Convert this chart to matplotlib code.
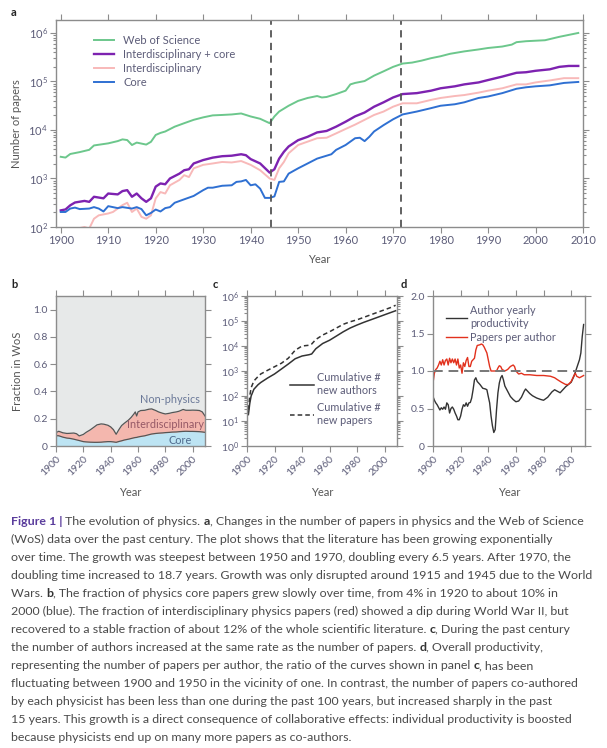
import numpy as np
import matplotlib
matplotlib.use('Agg')
import matplotlib.pyplot as plt
from matplotlib.ticker import LogLocator, NullFormatter

plt.rcParams['font.family'] = ['Lato', 'DejaVu Sans']
plt.rcParams['mathtext.fontset'] = 'custom'
plt.rcParams['mathtext.rm'] = 'Lato'
plt.rcParams['mathtext.it'] = 'Lato:italic'

# ---- panel a: number of papers ----
wos_years = [1900, 1901, 1902, 1904, 1906, 1907, 1910, 1912, 1913, 1914, 1915, 1916, 1918, 1919,
             1920, 1921, 1922, 1924, 1926, 1928, 1930, 1932, 1934, 1936, 1938, 1940, 1942, 1944,
             1945, 1946, 1948, 1950, 1952, 1954, 1955, 1956, 1958, 1960, 1961, 1962, 1964, 1966,
             1968, 1970, 1972, 1974, 1976, 1978, 1980, 1982, 1985, 1988, 1990, 1993, 1995, 1996,
             1998, 2000, 2002, 2005, 2009]
wos = [2800, 2700, 3200, 3500, 3900, 4800, 5300, 5900, 6400, 6200, 4900, 5500, 5000, 5700,
       7900, 8700, 9300, 11700, 13800, 16200, 18200, 20000, 20400, 20900, 21900, 19000, 17000, 13800,
       19000, 24000, 31600, 39800, 45700, 50100, 46800, 47900, 55000, 64600, 87100, 93300, 102000, 132000,
       162000, 200000, 234000, 245000, 269000, 302000, 331000, 372000, 417000, 457000, 490000, 525000, 575000, 646000,
       676000, 692000, 708000, 832000, 1000000]

ic_years = [1900, 1901, 1902, 1903, 1905, 1906, 1907, 1909, 1910, 1912, 1913, 1914, 1915, 1916,
            1917, 1918, 1919, 1920, 1921, 1922, 1923, 1925, 1926, 1927, 1928, 1930, 1932, 1934,
            1936, 1938, 1939, 1940, 1942, 1944, 1945, 1946, 1947, 1948, 1950, 1952, 1954, 1956,
            1958, 1960, 1962, 1964, 1966, 1968, 1970, 1972, 1975, 1978, 1980, 1983, 1985, 1988,
            1990, 1993, 1996, 1998, 2000, 2003, 2005, 2007, 2009]
inter_core = [220, 230, 280, 320, 345, 330, 420, 390, 490, 470, 550, 575, 420, 490,
              390, 330, 390, 680, 790, 760, 1000, 1260, 1480, 1550, 2040, 2400, 2690, 2880,
              2950, 3160, 3020, 2510, 2040, 1320, 1550, 2570, 3550, 4570, 6170, 7240, 8910, 9550,
              11700, 14800, 19100, 22900, 30200, 37200, 46800, 55000, 57500, 64600, 72400, 79400, 87100, 95500,
              107000, 126000, 151000, 155000, 166000, 178000, 200000, 209000, 209000]

int_years = [1904, 1905, 1906, 1907, 1908, 1910, 1911, 1912, 1913, 1914, 1915, 1916, 1917, 1918,
             1919, 1920, 1921, 1922, 1923, 1925, 1926, 1927, 1928, 1930, 1932, 1934, 1936, 1938,
             1940, 1942, 1944, 1945, 1946, 1947, 1948, 1950, 1952, 1954, 1956, 1958, 1960, 1962,
             1964, 1966, 1968, 1970, 1972, 1975, 1978, 1980, 1983, 1985, 1988, 1990, 1993, 1996,
             1998, 2000, 2003, 2006, 2009]
inter = [95, 100, 93, 148, 174, 190, 204, 240, 282, 316, 204, 240, 162, 148,
         174, 389, 525, 490, 724, 933, 1170, 1070, 1620, 1910, 2040, 2190, 2140, 2290,
         1910, 1480, 1000, 933, 1620, 2190, 3310, 4900, 5750, 6760, 6920, 8510, 10500, 12900,
         16200, 20400, 24000, 30200, 35500, 35500, 41700, 45700, 50100, 52500, 58900, 64600, 72400, 87100,
         87100, 95500, 105000, 117000, 117000]

core_years = [1900, 1901, 1902, 1903, 1904, 1906, 1907, 1908, 1909, 1910, 1912, 1913, 1915, 1916,
              1917, 1918, 1919, 1920, 1921, 1922, 1923, 1924, 1926, 1928, 1930, 1931, 1932, 1934,
              1936, 1937, 1938, 1939, 1940, 1941, 1942, 1943, 1944, 1945, 1946, 1947, 1948, 1950,
              1952, 1954, 1956, 1957, 1958, 1960, 1962, 1963, 1964, 1965, 1966, 1968, 1970, 1972,
              1975, 1978, 1980, 1983, 1985, 1988, 1990, 1993, 1996, 1998, 2000, 2003, 2006, 2009]
core = [204, 204, 240, 251, 234, 240, 257, 240, 209, 269, 245, 257, 240, 257,
        234, 174, 195, 229, 209, 245, 257, 316, 372, 437, 575, 646, 646, 708,
        724, 851, 871, 933, 724, 759, 617, 398, 398, 427, 851, 871, 1260, 1620,
        2040, 2570, 2950, 3160, 3890, 4900, 6760, 6920, 5890, 7240, 9330, 12600, 16600, 20900,
        24000, 28200, 31600, 33900, 37200, 45700, 49000, 57500, 70800, 75900, 79400, 83200, 93300, 97700]

war_years = [1944.2, 1971.6]

# ---- panel b: fraction in WoS ----
b_years = [1900, 1902, 1905, 1908, 1910, 1913, 1915, 1917, 1920, 1922,
           1925, 1928, 1930, 1933, 1935, 1938, 1940, 1942, 1944, 1946,
           1948, 1950, 1953, 1955, 1957, 1958, 1959, 1960, 1962, 1965,
           1968, 1970, 1973, 1975, 1978, 1980, 1983, 1985, 1988, 1990,
           1993, 1995, 1998, 2000, 2003, 2005, 2007, 2009]
b_core = [.076, .075, .065, .058, .056, .05, .045, .04, .032, .03,
          .028, .027, .027, .028, .03, .032, .032, .03, .027, .033,
          .038, .044, .05, .055, .06, .062, .063, .066, .07, .075,
          .083, .088, .092, .094, .096, .098, .1, .102, .103, .105,
          .107, .108, .107, .107, .106, .105, .103, .1]
b_inter = [.022, .033, .032, .034, .037, .045, .045, .034, .053, .07,
           .09, .113, .128, .134, .13, .12, .108, .09, .059, .087,
           .112, .123, .14, .155, .175, .188, .157, .184, .19, .187,
           .187, .184, .168, .156, .144, .137, .14, .143, .147, .15,
           .161, .154, .155, .156, .156, .155, .147, .12]

# ---- panel c: cumulative numbers ----
c_years = [1901, 1902, 1903, 1905, 1908, 1910, 1915, 1920, 1925, 1930, 1935, 1940, 1945, 1947,
           1950, 1955, 1960, 1965, 1970, 1975, 1980, 1985, 1990, 1995, 2000, 2005, 2008]
c_authors = [18, 50, 100, 186, 282, 347, 525, 760, 1200, 1900, 3090, 3980, 4470, 4800,
             7760, 12600, 17000, 25100, 37200, 52500, 69200, 89100, 112000, 141000, 178000, 224000, 257000]
c_papers = [28, 100, 214, 400, 600, 760, 1070, 1480, 2040, 3240, 6760, 10000, 10700, 12000,
            18200, 27500, 37200, 52500, 74100, 93300, 112000, 141000, 178000, 224000, 282000, 355000, 427000]

# ---- panel d: productivity ----
d_years_a = [1900, 1901, 1902, 1903, 1905, 1906, 1907, 1908, 1909, 1910, 1911, 1912, 1913, 1914,
             1915, 1916, 1917, 1918, 1919, 1920, 1921, 1922, 1923, 1924, 1925, 1926, 1927, 1928,
             1929, 1930, 1931, 1932, 1934, 1936, 1938, 1939, 1940, 1941, 1942, 1943, 1944, 1945,
             1946, 1947, 1948, 1949, 1950, 1951, 1952, 1954, 1956, 1958, 1960, 1962, 1964, 1966,
             1967, 1968, 1970, 1972, 1975, 1978, 1980, 1983, 1986, 1988, 1990, 1992, 1994, 1996,
             1998, 2000, 2002, 2004, 2006, 2007, 2008, 2009]
author_prod = [0.66, 0.61, 0.575, 0.55, 0.48, 0.51, 0.49, 0.52, 0.49, 0.575, 0.55, 0.44, 0.50, 0.52,
               0.49, 0.44, 0.40, 0.35, 0.35, 0.40, 0.49, 0.55, 0.53, 0.575, 0.53, 0.575, 0.58, 0.64,
               0.75, 0.88, 0.91, 0.86, 0.82, 0.77, 0.76, 0.75, 0.66, 0.575, 0.40, 0.27, 0.18, 0.22,
               0.49, 0.71, 0.84, 0.91, 0.94, 0.88, 0.80, 0.73, 0.66, 0.62, 0.59, 0.60, 0.65, 0.73,
               0.76, 0.74, 0.70, 0.67, 0.64, 0.62, 0.61, 0.65, 0.72, 0.75, 0.73, 0.71, 0.75, 0.79,
               0.82, 0.85, 0.93, 1.04, 1.15, 1.24, 1.46, 1.62]
d_years_p = [1900, 1901, 1902, 1903, 1904, 1905, 1906, 1907, 1908, 1909, 1910, 1911, 1912, 1913,
             1914, 1915, 1916, 1917, 1918, 1919, 1920, 1921, 1922, 1923, 1924, 1925, 1926, 1927,
             1928, 1930, 1931, 1932, 1934, 1935, 1936, 1937, 1938, 1939, 1940, 1941, 1942, 1944,
             1946, 1947, 1948, 1949, 1950, 1952, 1954, 1956, 1958, 1959, 1960, 1962, 1964, 1966,
             1970, 1975, 1980, 1985, 1988, 1990, 1993, 1996, 1998, 2000, 2002, 2003, 2004, 2006,
             2008, 2009]
papers_per_author = [0.84, 0.97, 1.02, 1.04, 1.08, 1.13, 1.08, 1.15, 1.08, 1.14, 1.16, 1.08, 1.17, 1.11,
                     1.16, 1.11, 1.16, 1.08, 1.16, 1.04, 1.08, 0.97, 1.11, 1.06, 1.14, 1.18, 1.06, 1.06,
                     1.13, 1.17, 1.28, 1.34, 1.35, 1.36, 1.35, 1.32, 1.28, 1.24, 1.15, 1.06, 1.00, 1.00,
                     1.00, 1.04, 1.07, 1.06, 1.02, 1.00, 1.02, 1.06, 1.08, 1.06, 1.00, 0.96, 0.97, 0.95,
                     0.95, 0.94, 0.94, 0.93, 0.91, 0.885, 0.85, 0.82, 0.82, 0.86, 0.94, 0.97, 0.93, 0.91,
                     0.93, 0.94]

W, H = 607, 748
fig = plt.figure(figsize=(W / 100, H / 100), dpi=100)

spine_col = '#8c8c8c'
tick_col = '#5c5c78'
lab_col = '#555555'


def box(l, r, t, b):
    return [l / W, (H - b) / H, (r - l) / W, (b - t) / H]


def style(ax, fs=7.5):
    for s in ax.spines.values():
        s.set_color(spine_col)
        s.set_linewidth(1.0)
    ax.tick_params(which='both', direction='out', top=True, right=True, color=spine_col,
                   labelcolor=tick_col, labelsize=fs, width=0.8)
    ax.tick_params(which='major', length=4, pad=2)
    ax.tick_params(which='minor', length=2.2)


ax_a = fig.add_axes(box(56, 583, 20, 227))
ax_b = fig.add_axes(box(56, 205, 296, 446))
ax_c = fig.add_axes(box(247, 397, 296, 446))
ax_d = fig.add_axes(box(433, 585, 296, 446))

# panel a
ax_a.semilogy(wos_years, wos, color='#6cc78c', lw=1.4, label='Web of Science')
ax_a.semilogy(ic_years, inter_core, color='#7d22b0', lw=1.7, label='Interdisciplinary + core')
ax_a.semilogy(int_years, inter, color='#f8b9b9', lw=1.4, label='Interdisciplinary')
ax_a.semilogy(core_years, core, color='#2f70d2', lw=1.4, label='Core')
for yr in war_years:
    ax_a.axvline(yr, color='#555555', lw=1.3, dashes=(4, 3))
ax_a.set_xlim(1899, 2010)
ax_a.set_ylim(100, 1.85e6)
ax_a.set_xticks(range(1900, 2011, 10))
ax_a.yaxis.set_major_locator(LogLocator(base=10, numticks=10))
ax_a.yaxis.set_minor_locator(LogLocator(base=10, subs=np.arange(2, 10), numticks=20))
ax_a.yaxis.set_minor_formatter(NullFormatter())
style(ax_a, 8)
ax_a.set_xlabel('Year', color=lab_col, fontsize=8)
ax_a.xaxis.set_label_coords(0.5, -0.13)
ax_a.set_ylabel('Number of papers', color=lab_col, fontsize=8)
ax_a.yaxis.set_label_coords(-0.064, 0.5)
ax_a.legend(loc='upper left', bbox_to_anchor=(0.062, 0.955), frameon=False, fontsize=8,
            handlelength=1.8, handletextpad=0.8, labelspacing=0.28, borderpad=0,
            labelcolor=tick_col)

# panel b
b_total = np.array(b_core) + np.array(b_inter)
ax_b.set_facecolor('#e7e9e9')
ax_b.fill_between(b_years, 0, b_core, color='#bde4f3', lw=0)
ax_b.fill_between(b_years, b_core, b_total, color='#f4b7ae', lw=0)
ax_b.plot(b_years, b_core, color='#555555', lw=0.9)
ax_b.plot(b_years, b_total, color='#555555', lw=0.9)
ax_b.set_xlim(1900, 2009)
ax_b.set_ylim(0, 1.1)
ax_b.set_yticks([0, 0.2, 0.4, 0.6, 0.8, 1.0])
ax_b.set_yticklabels(['0', '0.2', '0.4', '0.6', '0.8', '1.0'])
ax_b.text(1983.5, 0.34, 'Non-physics', color='#6a7898', fontsize=7.8, ha='center', va='center')
ax_b.text(1980, 0.16, 'Interdisciplinary', color='#955866', fontsize=7.8, ha='center', va='center')
ax_b.text(1991, 0.04, 'Core', color='#4f6a8c', fontsize=7.8, ha='center', va='center')
ax_b.set_ylabel('Fraction in WoS', color=lab_col, fontsize=8)
ax_b.yaxis.set_label_coords(-0.22, 0.5)

# panel c
ax_c.semilogy(c_years, c_authors, color='#333333', lw=1.1, label='Cumulative #\nnew authors')
ax_c.semilogy(c_years, c_papers, color='#333333', lw=1.1, dashes=(3, 2),
              label='Cumulative #\nnew papers')
ax_c.set_xlim(1900, 2009)
ax_c.set_ylim(1, 1e6)
ax_c.yaxis.set_major_locator(LogLocator(base=10, numticks=10))
ax_c.yaxis.set_minor_locator(LogLocator(base=10, subs=np.arange(2, 10), numticks=20))
ax_c.yaxis.set_minor_formatter(NullFormatter())
ax_c.legend(loc='upper left', bbox_to_anchor=(0.25, 0.53), frameon=False, fontsize=7.8,
            handlelength=2.2, handletextpad=0.3, labelspacing=0.6, borderpad=0,
            labelcolor=tick_col)

# panel d
ax_d.plot(d_years_a, author_prod, color='#333333', lw=1.0, label='Author yearly\nproductivity')
ax_d.plot(d_years_p, papers_per_author, color='#e2311d', lw=1.0, label='Papers per author')
ax_d.axhline(1.0, color='#777777', lw=1.4, dashes=(5, 3))
ax_d.set_xlim(1900, 2010)
ax_d.set_ylim(0, 2)
ax_d.set_yticks([0, 0.5, 1.0, 1.5, 2.0])
ax_d.set_yticklabels(['0', '0.5', '1.0', '1.5', '2.0'])
ax_d.legend(loc='upper left', bbox_to_anchor=(0.05, 0.975), frameon=False, fontsize=7.8,
            handlelength=1.9, handletextpad=0.3, labelspacing=0.3, borderpad=0,
            labelcolor=tick_col)

for ax in (ax_b, ax_c, ax_d):
    ax.set_xticks(range(1900, 2001, 20))
    style(ax, 7.5)
    for lbl in ax.get_xticklabels():
        lbl.set_rotation(45)
        lbl.set_ha('right')
        lbl.set_rotation_mode('anchor')
    ax.set_xlabel('Year', color=lab_col, fontsize=8)
    ax.xaxis.set_label_coords(0.5, -0.275)

# panel letters
for letter, x, y in [('a', 14, 12), ('b', 14, 284), ('c', 215, 284), ('d', 404, 284)]:
    fig.text(x / W, 1 - y / H, letter, fontsize=8, fontweight='bold', color='#222222',
             ha='center', va='center')

# caption
cap_col = '#4a4a4a'
fig_col = '#5a3c9c'
N = 'normal'
B = 'bold'
lines = [
    [('Figure 1 |', B, fig_col), (' The evolution of physics. ', N, cap_col), ('a', B, '#333333'),
     (', Changes in the number of papers in physics and the Web of Science', N, cap_col)],
    [('(WoS) data over the past century. The plot shows that the literature has been growing exponentially', N, cap_col)],
    [('over time. The growth was steepest between 1950 and 1970, doubling every 6.5 years. After 1970, the', N, cap_col)],
    [('doubling time increased to 18.7 years. Growth was only disrupted around 1915 and 1945 due to the World', N, cap_col)],
    [('Wars. ', N, cap_col), ('b', B, '#333333'),
     (', The fraction of physics core papers grew slowly over time, from 4% in 1920 to about 10% in', N, cap_col)],
    [('2000 (blue). The fraction of interdisciplinary physics papers (red) showed a dip during World War II, but', N, cap_col)],
    [('recovered to a stable fraction of about 12% of the whole scientific literature. ', N, cap_col),
     ('c', B, '#333333'), (', During the past century', N, cap_col)],
    [('the number of authors increased at the same rate as the number of papers. ', N, cap_col),
     ('d', B, '#333333'), (', Overall productivity,', N, cap_col)],
    [('representing the number of papers per author, the ratio of the curves shown in panel ', N, cap_col),
     ('c', B, '#333333'), (', has been', N, cap_col)],
    [('fluctuating between 1900 and 1950 in the vicinity of one. In contrast, the number of papers co-authored', N, cap_col)],
    [('by each physicist has been less than one during the past 100 years, but increased sharply in the past', N, cap_col)],
    [('15 years. This growth is a direct consequence of collaborative effects: individual productivity is boosted', N, cap_col)],
    [('because physicists end up on many more papers as co-authors.', N, cap_col)],
]

fig.canvas.draw()
renderer = fig.canvas.get_renderer()


def text_w(s, weight, size):
    t = fig.text(0, 0, '|' + s + '|', fontsize=size, fontweight=weight)
    w1 = t.get_window_extent(renderer).width
    t.set_text('||')
    w2 = t.get_window_extent(renderer).width
    t.remove()
    return w1 - w2


# scale font so the widest line fills the caption width
ref_size = 10
ref_w = sum(text_w(s, wt, ref_size) for s, wt, c in lines[3])
cap_size = ref_size * 583 / ref_w

y0 = 525
for i, parts in enumerate(lines):
    x = 11
    y = y0 + i * 18.0
    for s, wt, c in parts:
        fig.text(x / W, 1 - y / H, s, fontsize=cap_size, fontweight=wt, color=c,
                 ha='left', va='baseline')
        x += text_w(s, wt, cap_size)

fig.savefig('out.png', dpi=100)
